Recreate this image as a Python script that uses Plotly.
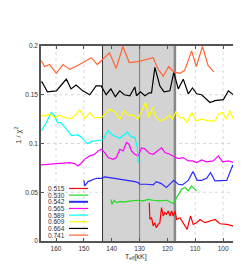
import plotly.graph_objects as go

# ---- data ----
labels = ["0.515", "0.530", "0.542", "0.565", "0.589", "0.609", "0.664", "0.741"]
colors = ["#ff0000", "#22dd22", "#2a2aff", "#ff00ff", "#00ffff", "#ffff00", "#000000", "#ff6633"]

t_515 = [126.5, 126.3, 125.7, 125.1, 124.5, 124.0, 123.3, 122.7, 122.1, 121.5, 120.9, 120.3, 119.7, 119.1,
         118.5, 117.9, 117.3, 116.7, 115.5, 114.3, 112.9, 111.7, 110.7, 109.5, 108.3, 106.5, 104.7, 102.9,
         101.1, 98.7, 96.3, 94.9]
v_515 = [0.0393, 0.0221, 0.0239, 0.0154, 0.0188, 0.0137, 0.0171, 0.0188, 0.0342, 0.0257, 0.0291, 0.0274,
         0.0308, 0.0257, 0.0308, 0.0257, 0.0308, 0.0221, 0.0239, 0.0188, 0.0119, 0.0257, 0.0171, 0.0188,
         0.0221, 0.0188, 0.0205, 0.0221, 0.0177, 0.0171, 0.0154, 0.0177]

t_530 = [140.3, 139.9, 139.1, 138.3, 137.1, 135.3, 132.9, 130.5, 128.7, 126.9, 125.1, 122.7, 120.3, 117.9,
         116.7, 114.9, 113.7, 112.5, 111.3, 110.1, 109.5]
v_530 = [0.0427, 0.0376, 0.0418, 0.0394, 0.0404, 0.0401, 0.0411, 0.0418, 0.0411, 0.0427, 0.0418, 0.0411,
         0.0418, 0.0384, 0.0445, 0.0530, 0.0548, 0.0514, 0.0565, 0.0530, 0.0514]

t_542 = [150.0, 149.7, 148.5, 147.3, 145.5, 143.7, 142.5, 140.7, 138.9, 136.5, 134.1, 131.7, 130.5, 130.0,
         127.6, 125.1, 124.0, 122.2, 120.4, 119.1, 117.7, 116.1, 114.6, 112.5, 110.8, 109.3, 107.7, 105.9,
         104.5, 102.9, 101.1, 98.7, 96.5, 95.7, 94.9]
v_542 = [0.0622, 0.0565, 0.0609, 0.0622, 0.0643, 0.0643, 0.0657, 0.0650, 0.0643, 0.0633, 0.0622, 0.0609,
         0.0599, 0.0582, 0.0582, 0.0575, 0.0609, 0.0589, 0.0548, 0.0582, 0.0622, 0.0582, 0.0575, 0.0622,
         0.0712, 0.0622, 0.0622, 0.0643, 0.0701, 0.0616, 0.0616, 0.0622, 0.0780, 0.0668, 0.0633]

t_565 = [165.4, 161.7, 158.1, 155.1, 153.3, 152.1, 150.9, 149.7, 147.9, 146.1, 144.9, 143.7, 142.5, 141.3,
         139.5, 138.3, 137.1, 135.9, 134.7, 133.8, 132.9, 131.7, 130.5, 129.3, 128.1, 126.5, 125.1, 123.3,
         122.1, 120.9, 119.1, 117.7, 116.1, 114.3, 112.5, 111.0, 109.5, 107.7, 105.9, 103.5, 101.7, 100.2,
         98.1, 96.3, 95.1]
v_565 = [0.0780, 0.0787, 0.0794, 0.0804, 0.0794, 0.0770, 0.0800, 0.0840, 0.0873, 0.0890, 0.0924, 0.0941,
         0.0907, 0.0856, 0.0838, 0.0856, 0.0941, 0.0924, 0.1010, 0.0993, 0.0924, 0.0890, 0.0873, 0.0955,
         0.0945, 0.0900, 0.0890, 0.0924, 0.0955, 0.0907, 0.0890, 0.0866, 0.0846, 0.0856, 0.0821, 0.0821,
         0.0804, 0.0832, 0.0811, 0.0821, 0.0873, 0.0811, 0.0821, 0.0804, 0.0846]

t_589 = [165.3, 163.5, 161.7, 160.5, 159.5, 158.3, 156.3, 154.5, 152.1, 150.9, 148.7, 147.3, 144.9, 143.1,
         141.3, 139.5, 137.1, 134.4, 132.9, 131.7, 130.8, 130.5]
v_589 = [0.1130, 0.1215, 0.1317, 0.1283, 0.1215, 0.1215, 0.1150, 0.1082, 0.1088, 0.1065, 0.0997, 0.1021,
         0.1031, 0.1041, 0.1133, 0.1082, 0.1054, 0.1116, 0.1065, 0.1065, 0.0961, 0.0805]

t_609 = [165.3, 164.1, 162.3, 160.5, 158.7, 156.9, 154.5, 152.7, 151.5, 149.7, 147.9, 146.3, 143.7, 141.9,
         140.7, 138.9, 137.1, 135.5, 134.1, 132.3, 130.5, 129.4, 127.8, 126.6, 125.4, 124.2, 122.7, 120.9,
         119.4, 118.2, 117.0, 115.5, 114.3, 112.9, 111.3, 109.5, 107.7, 105.3, 102.9, 101.7, 100.2, 98.9,
         97.5, 96.3, 95.1]
v_609 = [0.1283, 0.1283, 0.1300, 0.1266, 0.1290, 0.1266, 0.1256, 0.1300, 0.1345, 0.1256, 0.1317, 0.1266,
         0.1266, 0.1317, 0.1351, 0.1324, 0.1250, 0.1335, 0.1290, 0.1290, 0.1250, 0.1324, 0.1420, 0.1266,
         0.1370, 0.1276, 0.1232, 0.1249, 0.1290, 0.1249, 0.1324, 0.1266, 0.1266, 0.1215, 0.1317, 0.1232,
         0.1249, 0.1232, 0.1232, 0.1300, 0.1317, 0.1249, 0.1335, 0.1249, 0.1300]

t_664 = [165.4, 165.0, 163.1, 159.9, 158.1, 156.3, 154.6, 152.8, 150.4, 147.9, 145.6, 143.8, 142.0, 140.3,
         138.7, 137.1, 135.5, 133.5, 131.7, 131.1, 129.7, 128.1, 126.5, 125.7, 124.5, 122.7, 121.2, 119.1,
         117.7, 116.1, 114.3, 112.5, 111.0, 109.5, 107.7, 104.7, 102.9, 99.9, 98.1, 96.3, 95.1]
v_664 = [0.1630, 0.1630, 0.1530, 0.1540, 0.1600, 0.1660, 0.1560, 0.1600, 0.1540, 0.1500, 0.1590, 0.1590,
         0.1500, 0.1560, 0.1480, 0.1540, 0.1500, 0.1490, 0.1580, 0.1490, 0.1530, 0.1490, 0.1520, 0.1520,
         0.1780, 0.1590, 0.1530, 0.1540, 0.1730, 0.1560, 0.1660, 0.1510, 0.1570, 0.1510, 0.1500, 0.1420,
         0.1440, 0.1450, 0.1540, 0.1500, 0.1500]

t_741 = [165.3, 164.1, 162.3, 159.9, 157.5, 155.1, 152.2, 147.3, 145.2, 143.5, 140.8, 138.4, 136.0, 133.7,
         130.5, 125.1, 123.3, 121.5, 119.5, 117.7, 115.5, 113.8, 111.3, 109.6, 107.4, 105.4, 103.3]
v_741 = [0.1850, 0.1790, 0.1810, 0.1720, 0.1810, 0.1760, 0.1800, 0.1880, 0.1810, 0.1860, 0.1930, 0.1770,
         0.1995, 0.1830, 0.1840, 0.1880, 0.1760, 0.1690, 0.1790, 0.1735, 0.1720, 0.1750, 0.1950, 0.1790,
         0.1995, 0.1800, 0.1735]

series_t = [t_515, t_530, t_542, t_565, t_589, t_609, t_664, t_741]
series_v = [v_515, v_530, v_542, v_565, v_589, v_609, v_664, v_741]

band_lo, band_mid, band_hi = 117.3, 130.0, 143.3
x_ticks = [160, 150, 140, 130, 120, 110, 100]
y_ticks = [0, 0.05, 0.1, 0.15, 0.2]
y_ticktext = ["0", "0.05", "0.1", "0.15", "0.2"]
x_range = [165.4, 95.0]
y_range = [0, 0.2]

FONT = "Liberation Sans"
# plot-area geometry in pixels (used only for paper-coordinate placement of the key and titles)
L, R, T, B = 33, 229, 38, 233.3
PW, PH = R - L, B - T

fig = go.Figure()

for lab, col, t, v in zip(labels, colors, series_t, series_v):
    fig.add_trace(go.Scatter(x=t, y=v, mode="lines", name=lab,
                             line=dict(color=col, width=1.2), showlegend=False))

# dashed grid drawn as shapes so the shaded band covers it
grid_line = dict(color="#d8d8d8", width=1, dash="3px,3px")
for xv in x_ticks:
    fig.add_shape(type="line", xref="x", yref="y", x0=xv, x1=xv, y0=y_range[0], y1=y_range[1],
                  line=grid_line, layer="below")
for yv in y_ticks[1:-1]:
    fig.add_shape(type="line", xref="x", yref="y", x0=x_range[0], x1=x_range[1], y0=yv, y1=yv,
                  line=grid_line, layer="below")

# shaded band and vertical markers
fig.add_shape(type="rect", xref="x", yref="y", x0=band_lo, x1=band_hi, y0=y_range[0], y1=y_range[1],
              fillcolor="#d3d3d3", line=dict(width=0), layer="below")
fig.add_shape(type="line", xref="x", yref="y", x0=band_hi, x1=band_hi, y0=y_range[0], y1=y_range[1],
              line=dict(color="#333333", width=1), layer="below")
fig.add_shape(type="line", xref="x", yref="y", x0=band_mid, x1=band_mid, y0=y_range[0], y1=y_range[1],
              line=dict(color="#888888", width=1.2), layer="below")
fig.add_shape(type="line", xref="x", yref="y", x0=band_lo, x1=band_lo, y0=y_range[0], y1=y_range[1],
              line=dict(color="#888888", width=2.5), layer="below")

# manual gnuplot-style key (label left, sample line right)
row0 = 180.7
for i, (lab, col) in enumerate(zip(labels, colors)):
    py = row0 + i * 6.67
    yp = (B - py) / PH
    fig.add_annotation(x=(58.5 - L) / PW, y=yp, xref="paper", yref="paper", text=lab,
                       showarrow=False, xanchor="right", yanchor="middle",
                       font=dict(family=FONT, size=6.5, color="#333333"))
    fig.add_shape(type="line", xref="paper", yref="paper", x0=(61 - L) / PW, x1=(80 - L) / PW,
                  y0=yp, y1=yp, line=dict(color=col, width=1.2 if col != "#2a2aff" else 2))

# axis titles
fig.add_annotation(x=(10 - L) / PW, y=(B - 128) / PH, xref="paper", yref="paper",
                   text="1 / χ<sup>2</sup>", showarrow=False, textangle=-90,
                   xanchor="center", yanchor="middle",
                   font=dict(family=FONT, size=7.5, color="#333333"))
fig.add_annotation(x=(128 - L) / PW, y=(B - 249) / PH, xref="paper", yref="paper",
                   text="T<sub>eff</sub>[kK]", showarrow=False,
                   xanchor="center", yanchor="middle",
                   font=dict(family=FONT, size=7, color="#333333"))

axis_common = dict(showline=True, linecolor="#555555", linewidth=1.5, mirror="ticks",
                   ticks="inside", ticklen=3, tickcolor="#555555", automargin=False,
                   showgrid=False, zeroline=False,
                   tickfont=dict(family=FONT, size=6.5, color="#333333"))

fig.update_xaxes(range=x_range, tickvals=x_ticks, **axis_common)
fig.update_yaxes(range=y_range, tickvals=y_ticks, ticktext=y_ticktext, **axis_common)

fig.update_layout(width=241, height=271, margin=dict(l=L, r=241 - R, t=T, b=271 - B),
                  plot_bgcolor="white", paper_bgcolor="white", showlegend=False)

fig.write_html("out.html")
